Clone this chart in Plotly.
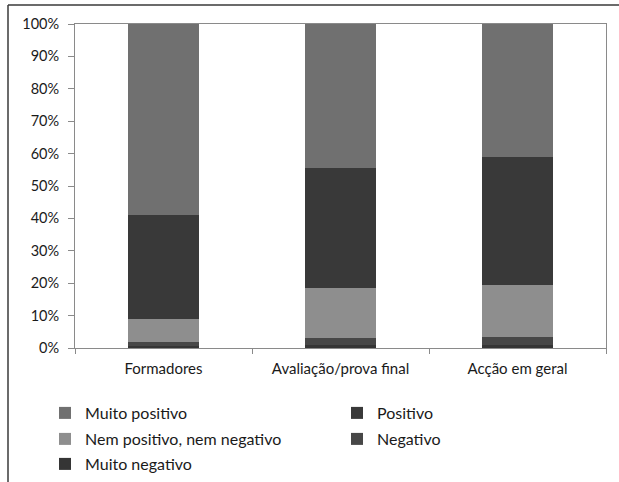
import plotly.graph_objects as go

categories = ["Formadores", "Avaliação/prova final", "Acção em geral"]
muito_negativo = [0.5, 1.0, 1.0]
negativo = [1.2, 2.0, 2.5]
nem = [7.2, 15.6, 15.9]
positivo = [32.1, 37.0, 39.5]
muito_positivo = [59.0, 44.4, 41.1]

series = [
    ("Muito negativo", muito_negativo, "#353535", "legend3", 1),
    ("Negativo", negativo, "#474747", "legend2", 2),
    ("Nem positivo, nem negativo", nem, "#8e8e8e", "legend2", 1),
    ("Positivo", positivo, "#393939", "legend", 2),
    ("Muito positivo", muito_positivo, "#707070", "legend", 1),
]

W, H = 619, 482
L, R, T, B = 75, 13, 24, 134
pw, ph = W - L - R, H - T - B

def px_x(p):
    return (p - L) / pw

def px_y(p):
    return (H - B - p) / ph

fig = go.Figure()
for name, vals, color, leg, rank in series:
    fig.add_trace(go.Bar(
        x=categories, y=vals, name=name,
        marker=dict(color=color, line=dict(width=0)),
        legend=leg, legendrank=rank,
    ))

font = "Lato, 'Open Sans', sans-serif"
leg_common = dict(orientation="h", xanchor="left", yanchor="middle",
                  font=dict(family=font, size=16, color="#1a1a1a"),
                  entrywidth=247, entrywidthmode="pixels",
                  itemwidth=30, bgcolor="rgba(0,0,0,0)", traceorder="normal")

frame = dict(color="#3a3a3a", width=1.5)
fig.update_layout(
    width=W, height=H,
    margin=dict(l=L, r=R, t=T, b=B, autoexpand=False),
    paper_bgcolor="white", plot_bgcolor="white",
    barmode="stack", bargap=0.6,
    font=dict(family=font, size=14, color="#1a1a1a"),
    xaxis=dict(showline=True, linecolor="#8a8a8a", linewidth=1, mirror=True,
               ticks="outside", tickson="boundaries", ticklen=5, tickcolor="#8a8a8a",
               ticklabelstandoff=7,
               showgrid=False, tickfont=dict(size=15), fixedrange=True),
    yaxis=dict(range=[0, 100], tickvals=list(range(0, 101, 10)),
               ticktext=[f"{v}%" for v in range(0, 101, 10)],
               showline=True, linecolor="#8a8a8a", linewidth=1, mirror=True,
               ticks="outside", ticklen=6, tickcolor="#8a8a8a",
               ticklabelstandoff=6,
               showgrid=False, zeroline=False, tickfont=dict(size=14.5)),
    legend=dict(x=px_x(45), y=px_y(413), **leg_common),
    legend2=dict(x=px_x(45), y=px_y(439), **leg_common),
    legend3=dict(x=px_x(45), y=px_y(464), **leg_common),
    shapes=[
        dict(type="line", xref="paper", yref="paper",
             x0=px_x(8), x1=px_x(640), y0=px_y(5), y1=px_y(5), line=frame),
        dict(type="line", xref="paper", yref="paper",
             x0=px_x(8), x1=px_x(8), y0=px_y(5), y1=px_y(500), line=frame),
    ],
)

fig.write_html("out.html", config={"displayModeBar": False},
               post_script="document.body.style.margin='0';")
